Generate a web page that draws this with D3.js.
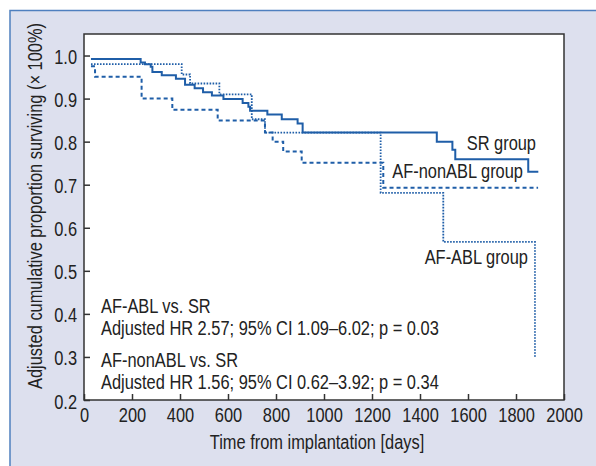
<!DOCTYPE html>
<html>
<head>
<meta charset="utf-8">
<script src="https://cdn.jsdelivr.net/npm/d3@7"></script>
<style>
  html, body { margin: 0; padding: 0; background: #ffffff; }
  svg { display: block; }
  text { font-family: "Liberation Sans", Arial, sans-serif; fill: #222; }
</style>
</head>
<body>
<div id="chart"></div>
<script>
// ---- data ----
const groups = ["SR group", "AF-nonABL group", "AF-ABL group"];

const srDays   = [29, 236, 254, 278, 285, 324, 383, 421, 461, 496, 533, 581, 661, 685, 692, 764, 824, 890, 911, 1470, 1535, 1547, 1851, 1893];
const srSurv   = [0.992, 0.984, 0.980, 0.974, 0.962, 0.954, 0.946, 0.932, 0.924, 0.915, 0.907, 0.899, 0.890, 0.881, 0.872, 0.863, 0.852, 0.842, 0.821, 0.800, 0.781, 0.759, 0.730, 0.730];

const nonAblDays = [29, 46, 240, 368, 557, 754, 786, 830, 907, 1247, 1892];
const nonAblSurv = [0.975, 0.951, 0.900, 0.874, 0.849, 0.821, 0.800, 0.777, 0.751, 0.693, 0.693];

const ablDays = [29, 407, 442, 564, 699, 754, 1236, 1497, 1879];
const ablSurv = [0.980, 0.956, 0.935, 0.910, 0.852, 0.821, 0.681, 0.567, 0.297];

const xTicks = [0, 200, 400, 600, 800, 1000, 1200, 1400, 1600, 1800, 2000];
const yTicks = [0.2, 0.3, 0.4, 0.5, 0.6, 0.7, 0.8, 0.9, 1.0];

const annotations = [
  "AF-ABL vs. SR",
  "Adjusted HR 2.57; 95% CI 1.09\u20136.02; p = 0.03",
  "AF-nonABL vs. SR",
  "Adjusted HR 1.56; 95% CI 0.62\u20133.92; p = 0.34"
];

const xTitle = "Time from implantation [days]";
const yTitle = "Adjusted cumulative proportion surviving (\u00d7 100%)";

// ---- drawing ----
const W = 596, H = 466;
const plot = { left: 84, top: 34, right: 564, bottom: 400 };
const FS = 20;
const NARROW = 0.82;   // condensed typeface look
const lineColor = "#1f5ea8";

const svg = d3.select("#chart").append("svg").attr("width", W).attr("height", H);

function narrow(sel) {
  sel.each(function () {
    const len = this.getComputedTextLength();
    if (len > 0) d3.select(this).attr("textLength", len * NARROW).attr("lengthAdjust", "spacingAndGlyphs");
  });
}

// panel background
svg.append("rect").attr("x", 0).attr("y", 0).attr("width", W).attr("height", H).attr("fill", "#ffffff");
svg.append("rect").attr("x", 10).attr("y", 10.5).attr("width", W + 10).attr("height", H + 10)
  .attr("fill", "#dde0ee").attr("stroke", "#4f80bf").attr("stroke-width", 1.5);

const x = d3.scaleLinear().domain([0, 2000]).range([plot.left, plot.right]);
const y = d3.scaleLinear().domain([0.2, 1.05]).range([plot.bottom, plot.top]);

// plot area
svg.append("rect").attr("x", plot.left).attr("y", plot.top)
  .attr("width", plot.right - plot.left).attr("height", plot.bottom - plot.top)
  .attr("fill", "#ffffff");

// axes
const xAxis = d3.axisBottom(x).tickValues(xTicks).tickFormat(d3.format("d"))
  .tickSizeInner(-6).tickSizeOuter(0).tickPadding(8);
const yAxis = d3.axisLeft(y).tickValues(yTicks).tickFormat(d3.format(".1f"))
  .tickSizeInner(-6).tickSizeOuter(0).tickPadding(7);

const gx = svg.append("g").attr("transform", `translate(0,${plot.bottom})`).call(xAxis);
const gy = svg.append("g").attr("transform", `translate(${plot.left},0)`).call(yAxis);
[gx, gy].forEach(g => {
  g.select(".domain").remove();
  g.selectAll(".tick line").attr("stroke", "#333").attr("stroke-width", 1.5);
  g.selectAll(".tick text").style("font-size", FS + "px").attr("fill", "#222")
    .style("font-family", '"Liberation Sans", Arial, sans-serif');
  narrow(g.selectAll(".tick text"));
});
gy.selectAll(".tick text").attr("dy", "0.4em");

// frame
svg.append("rect").attr("x", plot.left).attr("y", plot.top)
  .attr("width", plot.right - plot.left).attr("height", plot.bottom - plot.top)
  .attr("fill", "none").attr("stroke", "#333").attr("stroke-width", 1.5);

// survival curves
const line = d3.line().x(d => x(d[0])).y(d => y(d[1])).curve(d3.curveStepAfter);
const series = [
  { days: srDays, surv: srSurv, dash: null, width: 2 },
  { days: nonAblDays, surv: nonAblSurv, dash: "4,3", width: 2 },
  { days: ablDays, surv: ablSurv, dash: "1.6,1.4", width: 1.8 }
];
series.forEach(s => {
  const pts = s.days.map((d, i) => [d, s.surv[i]]);
  svg.append("path").datum(pts).attr("d", line)
    .attr("fill", "none").attr("stroke", lineColor).attr("stroke-width", s.width)
    .attr("stroke-dasharray", s.dash);
});

// group labels
const labelPos = [[536, 150], [523, 178], [528, 264]];
groups.forEach((g, i) => {
  svg.append("text").attr("x", labelPos[i][0]).attr("y", labelPos[i][1])
    .attr("text-anchor", "end").style("font-size", FS + "px").text(g).call(narrow);
});

// annotations
const annY = [313, 335, 367, 389];
annotations.forEach((t, i) => {
  svg.append("text").attr("x", 101).attr("y", annY[i]).style("font-size", FS + "px").text(t).call(narrow);
});

// axis titles
svg.append("text").attr("x", 317).attr("y", 449).attr("text-anchor", "middle")
  .style("font-size", FS + "px").text(xTitle).call(narrow);
svg.append("text").attr("transform", "translate(42,206) rotate(-90)").attr("text-anchor", "middle")
  .style("font-size", FS + "px").text(yTitle).call(narrow);
</script>
</body>
</html>
